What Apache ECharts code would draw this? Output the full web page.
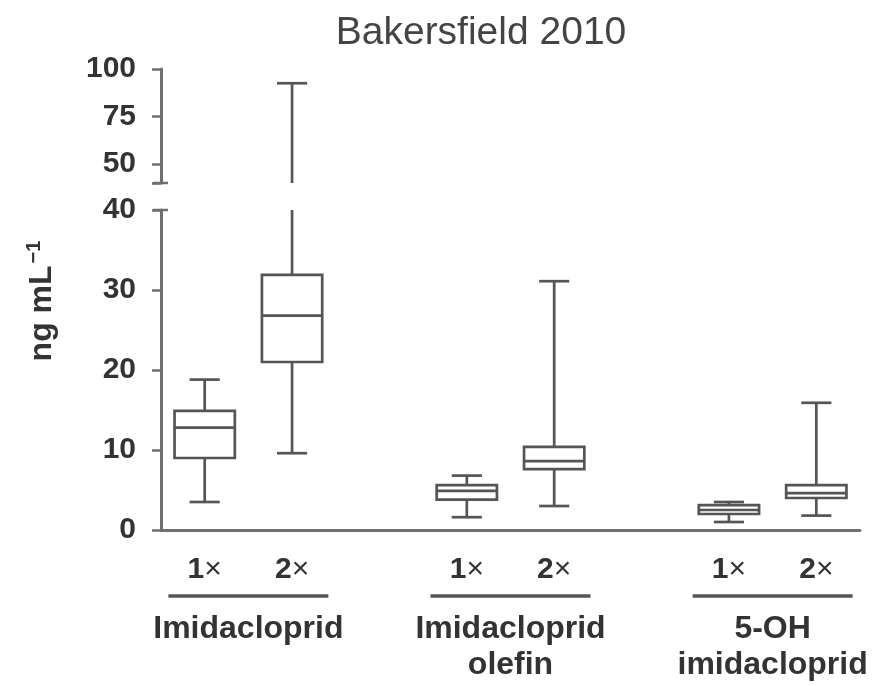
<!DOCTYPE html>
<html>
<head>
<meta charset="utf-8">
<script src="https://cdn.jsdelivr.net/npm/echarts@6/dist/echarts.min.js"></script>
<style>html,body{margin:0;padding:0;background:#fff}#c{width:884px;height:686px}</style>
</head>
<body>
<div id="c"></div>
<script>
// ---- data ----
const categories = ['1×', '2×', '', '1×', '2×', '', '1×', '2×'];
const groupNames = ['Imidacloprid', 'Imidacloprid\nolefin', '5-OH\nimidacloprid'];
const groupFirstIndex = [0, 3, 6];
const lowWhisker  = [3.5, 9.6, null, 1.6, 3.0, null, 1.0, 1.8];
const q1Values    = [9.0, 21.0, null, 3.8, 7.6, null, 2.0, 4.0];
const medianVals  = [12.8, 26.8, null, 4.9, 8.6, null, 2.5, 4.6];
const q3Values    = [14.9, 31.9, null, 5.6, 10.4, null, 3.1, 5.6];
const highWhisker = [18.8, 92.5, null, 6.8, 31.1, null, 3.5, 15.9];
const lowerTicks = [0, 10, 20, 30, 40];
const upperTickValues = [40, 50, 75, 100];
const upperLabelValues = [50, 75, 100];
const breakValue = 40;
const titleText = 'Bakersfield 2010';

// ---- build ----
const boxData = [];
categories.forEach((c, i) => {
  if (lowWhisker[i] == null) return;
  boxData.push([i, lowWhisker[i], q1Values[i], medianVals[i], q3Values[i], highWhisker[i]]);
});

const AX = '#6f6f6f';
const TXT = '#333333';
const FONT = '"Liberation Sans", Arial, Helvetica, sans-serif';
const BOX = '#555555';

function makeRender(lo, hi) {
  return function (params, api) {
    const idx = api.value(0);
    const v = [1, 2, 3, 4, 5].map(d => api.value(d));
    const [mn, a, md, b, mx] = v;
    if (mx <= lo || mn >= hi) return null;
    const clamp = t => Math.max(lo, Math.min(hi, t));
    const x = api.coord([idx, lo])[0];
    const bw = api.size([1, 0])[0] * 0.69;
    const cw = bw / 2;
    const y = t => api.coord([idx, clamp(t)])[1];
    const st = { stroke: BOX, lineWidth: 2.7, fill: null };
    const ch = [];
    if (clamp(a) > clamp(mn)) ch.push({ type: 'line', shape: { x1: x, y1: y(mn), x2: x, y2: y(a) }, style: st });
    if (clamp(mx) > clamp(b)) ch.push({ type: 'line', shape: { x1: x, y1: y(b), x2: x, y2: y(mx) }, style: st });
    if (mn >= lo && mn <= hi) ch.push({ type: 'line', shape: { x1: x - cw / 2, y1: y(mn), x2: x + cw / 2, y2: y(mn) }, style: st });
    if (mx >= lo && mx <= hi) ch.push({ type: 'line', shape: { x1: x - cw / 2, y1: y(mx), x2: x + cw / 2, y2: y(mx) }, style: st });
    if (b > lo && a < hi) {
      const yt = y(b), yb = y(a);
      ch.push({ type: 'rect', shape: { x: x - bw / 2, y: yt, width: bw, height: yb - yt }, style: { stroke: BOX, lineWidth: 2.7, fill: '#ffffff' } });
    }
    if (md >= lo && md <= hi) ch.push({ type: 'line', shape: { x1: x - bw / 2, y1: y(md), x2: x + bw / 2, y2: y(md) }, style: st });
    return { type: 'group', children: ch };
  };
}

const chart = echarts.init(document.getElementById('c'), null, { renderer: 'canvas' });
const yLabel = { margin: 25, fontFamily: FONT, fontSize: 30, fontWeight: 'bold', color: TXT };
const option = {
  animation: false,
  backgroundColor: '#ffffff',
  title: {
    text: titleText, left: 476, top: 9, textAlign: 'center',
    textStyle: { fontFamily: FONT, fontSize: 39, fontWeight: 'normal', color: '#444' }
  },
  grid: [
    { left: 161, right: 24, top: 210, bottom: 156, containLabel: false },
    { left: 161, right: 24, top: 69, height: 114, containLabel: false }
  ],
  xAxis: [
    {
      type: 'category', gridIndex: 0, data: categories, boundaryGap: true,
      axisLine: { lineStyle: { color: AX, width: 3 } },
      axisTick: { alignWithLabel: true, interval: 0, length: 7, lineStyle: { color: AX, width: 2.5 } },
      axisLabel: {
        interval: 0, margin: 25, fontFamily: FONT, fontSize: 30, color: TXT,
        formatter: function (val) {
          if (!val) return '';
          return '{n|' + val.charAt(0) + '}{x|' + val.slice(1) + '}';
        },
        rich: {
          n: { fontFamily: FONT, fontSize: 30, fontWeight: 'bold', color: TXT },
          x: { fontFamily: FONT, fontSize: 30, fontWeight: 'normal', color: TXT }
        }
      },
      splitLine: { show: false }
    },
    { type: 'category', gridIndex: 1, data: categories, boundaryGap: true, show: false }
  ],
  yAxis: [
    {
      type: 'value', gridIndex: 0, min: lowerTicks[0], max: lowerTicks[lowerTicks.length - 1], interval: 10,
      axisLine: { show: true, lineStyle: { color: AX, width: 3 } },
      axisTick: { show: true, length: 9, lineStyle: { color: AX, width: 2.5 } },
      axisLabel: yLabel,
      splitLine: { show: false }
    },
    {
      type: 'value', gridIndex: 1, min: 40, max: 100,
      axisLine: { show: true, lineStyle: { color: AX, width: 3 } },
      axisTick: { show: true, length: 9, customValues: upperTickValues, lineStyle: { color: AX, width: 2.5 } },
      axisLabel: Object.assign({ customValues: upperLabelValues }, yLabel),
      splitLine: { show: false }
    }
  ],
  series: [
    { type: 'custom', xAxisIndex: 0, yAxisIndex: 0, renderItem: makeRender(0, 40), data: boxData, encode: { x: 0, y: [1, 2, 3, 4, 5] }, z: 5 },
    { type: 'custom', xAxisIndex: 1, yAxisIndex: 1, renderItem: makeRender(40, 100), data: boxData, encode: { x: 0, y: [1, 2, 3, 4, 5] }, z: 5 }
  ]
};
chart.setOption(option);

// annotations: group underlines and names, y-axis title, break caps
const graphics = [];
groupFirstIndex.forEach((gi, k) => {
  const x1 = chart.convertToPixel({ xAxisIndex: 0 }, gi);
  const x2 = chart.convertToPixel({ xAxisIndex: 0 }, gi + 1);
  const cx = (x1 + x2) / 2;
  graphics.push({
    type: 'line', shape: { x1: cx - 80, y1: 596, x2: cx + 80, y2: 596 },
    style: { stroke: '#555', lineWidth: 3.5 }
  });
  graphics.push({
    type: 'text', x: cx, y: 611,
    style: {
      text: groupNames[k], align: 'center', verticalAlign: 'top',
      fontFamily: FONT, fontSize: 32, fontWeight: 'bold', fill: TXT, lineHeight: 36
    }
  });
});
const axisX = chart.convertToPixel({ xAxisIndex: 0 }, 0) - chart.getModel().getComponent('xAxis', 0).axis.getBandWidth() / 2;
[0, 1].forEach(ai => {
  const yb = chart.convertToPixel({ yAxisIndex: ai }, breakValue);
  graphics.push({
    type: 'line', shape: { x1: axisX - 8, y1: yb, x2: axisX + 7, y2: yb },
    style: { stroke: AX, lineWidth: 2.5 }
  });
});
graphics.push({
  type: 'text', x: 42, y: 301, rotation: Math.PI / 2,
  style: {
    text: '{b|ng mL}{s|−1}', align: 'center', verticalAlign: 'middle',
    rich: {
      b: { fontFamily: FONT, fontSize: 32, fontWeight: 'bold', fill: TXT, lineHeight: 36 },
      s: { fontFamily: FONT, fontSize: 20, fontWeight: 'bold', fill: TXT, lineHeight: 36, verticalAlign: 'top', padding: [0, 0, 0, 2] }
    }
  }
});
chart.setOption({ graphic: graphics });
</script>
</body>
</html>
